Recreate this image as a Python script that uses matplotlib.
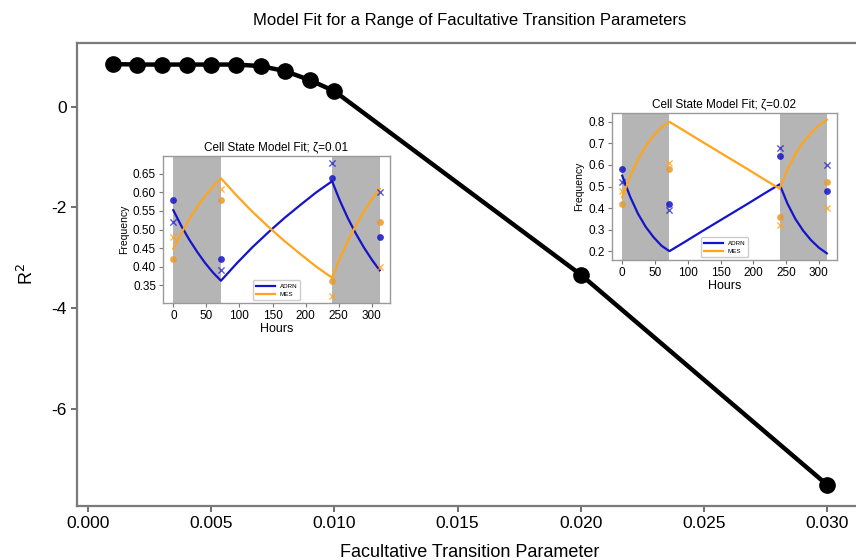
import matplotlib
matplotlib.use('Agg')
import matplotlib.pyplot as plt

plt.rcParams['font.family'] = ['Liberation Sans', 'DejaVu Sans']
plt.rcParams['axes.unicode_minus'] = False

# main sweep over the facultative transition parameter
fac_param = [0.001, 0.002, 0.003, 0.004, 0.005, 0.006, 0.007, 0.008, 0.009, 0.010, 0.020, 0.030]
r2_vals = [0.85, 0.84, 0.84, 0.84, 0.84, 0.84, 0.81, 0.71, 0.53, 0.31, -3.34, -7.52]
main_xticks = [0.000, 0.005, 0.010, 0.015, 0.020, 0.025, 0.030]
main_yticks = [0, -2, -4, -6]

# inset fits (hours on x)
fit_hours = [0, 12, 24, 36, 48, 60, 72, 96, 120, 144, 168, 192, 216, 240,
             252, 264, 276, 288, 300, 312]
adrn_fit_z01 = [0.552, 0.510, 0.473, 0.440, 0.410, 0.384, 0.362, 0.409, 0.453, 0.493,
                0.531, 0.566, 0.600, 0.630, 0.577, 0.530, 0.489, 0.452, 0.419, 0.390]
mes_fit_z01 = [0.448, 0.490, 0.527, 0.560, 0.590, 0.616, 0.638, 0.591, 0.547, 0.507,
               0.469, 0.434, 0.400, 0.370, 0.423, 0.470, 0.511, 0.548, 0.581, 0.610]
adrn_fit_z02 = [0.550, 0.453, 0.374, 0.312, 0.264, 0.225, 0.200, 0.244, 0.289, 0.333,
                0.377, 0.421, 0.466, 0.510, 0.421, 0.350, 0.295, 0.251, 0.216, 0.190]
mes_fit_z02 = [0.450, 0.547, 0.626, 0.688, 0.736, 0.775, 0.800, 0.756, 0.711, 0.667,
               0.623, 0.579, 0.534, 0.490, 0.579, 0.650, 0.705, 0.749, 0.784, 0.810]

# observed frequencies, two replicates
obs_hours = [0, 72, 240, 312]
adrn_rep1 = [0.58, 0.42, 0.64, 0.48]
adrn_rep2 = [0.52, 0.39, 0.68, 0.60]
mes_rep1 = [0.42, 0.58, 0.36, 0.52]
mes_rep2 = [0.48, 0.61, 0.32, 0.40]
drug_windows = [(0, 72), (240, 312)]

inset_titles = ['Cell State Model Fit; ζ=0.01', 'Cell State Model Fit; ζ=0.02']
inset_yticks = [[0.35, 0.40, 0.45, 0.50, 0.55, 0.60, 0.65],
                [0.2, 0.3, 0.4, 0.5, 0.6, 0.7, 0.8]]
inset_fmt = ['%.2f', '%.1f']

SPINE = '#7a7a7a'
BLUE = '#1414c8'
ORANGE = '#ffa41c'

fig = plt.figure(figsize=(8.56, 5.6), dpi=100)
ax = fig.add_axes([77 / 856, 1 - 506 / 560, 786 / 856, 463 / 560])
ax.plot(fac_param, r2_vals, '-o', color='black', lw=3.2, markersize=11)
ax.set_xticks(main_xticks)
ax.set_xticklabels(['%.3f' % t for t in main_xticks])
ax.set_yticks(main_yticks)
ax.tick_params(labelsize=12.5, colors='#555555', labelcolor='black', length=4, width=1.2)
for s in ax.spines.values():
    s.set_color(SPINE)
    s.set_linewidth(1.6)
ax.set_title('Model Fit for a Range of Facultative Transition Parameters', fontsize=12, pad=13)
ax.set_xlabel('Facultative Transition Parameter', fontsize=13, labelpad=9)
ax.set_ylabel('R$^2$', fontsize=13, labelpad=10)


def draw_inset(rect, adrn_fit, mes_fit, title, yticks, fmt):
    ins = fig.add_axes(rect)
    for lo, hi in drug_windows:
        ins.axvspan(lo, hi, color='#b5b5b5', lw=0, zorder=0)
    ins.plot(fit_hours, adrn_fit, color=BLUE, lw=1.6, label='ADRN')
    ins.plot(fit_hours, mes_fit, color=ORANGE, lw=1.6, label='MES')
    ins.scatter(obs_hours, adrn_rep1, color=BLUE, s=24, alpha=0.85, lw=0, zorder=3)
    ins.scatter(obs_hours, adrn_rep2, color=BLUE, marker='x', s=20, alpha=0.7, lw=1, zorder=3)
    ins.scatter(obs_hours, mes_rep1, color='#e89a2c', s=24, alpha=0.85, lw=0, zorder=3)
    ins.scatter(obs_hours, mes_rep2, color=ORANGE, marker='x', s=20, alpha=0.8, lw=1, zorder=3)
    ins.set_xticks([0, 50, 100, 150, 200, 250, 300])
    ins.set_yticks(yticks)
    ins.set_yticklabels([fmt % v for v in yticks])
    ins.tick_params(labelsize=8.5, length=3, width=0.8, colors='#777777', labelcolor='black', pad=2)
    for s in ins.spines.values():
        s.set_color('#9a9a9a')
        s.set_linewidth(1.0)
    ins.set_title(title, fontsize=8.5, pad=4)
    ins.set_xlabel('Hours', fontsize=9, labelpad=1)
    ins.set_ylabel('Frequency', fontsize=7.5, labelpad=3)
    ins.legend(loc='lower center', fontsize=4.5, handlelength=3, framealpha=1,
               edgecolor='#cccccc', borderpad=0.5, labelspacing=0.4)
    return ins


draw_inset([163 / 856, 1 - 303 / 560, 227 / 856, 147 / 560],
           adrn_fit_z01, mes_fit_z01, inset_titles[0], inset_yticks[0], inset_fmt[0])
draw_inset([612 / 856, 1 - 260 / 560, 225 / 856, 147 / 560],
           adrn_fit_z02, mes_fit_z02, inset_titles[1], inset_yticks[1], inset_fmt[1])

fig.savefig('out.png', dpi=100)
